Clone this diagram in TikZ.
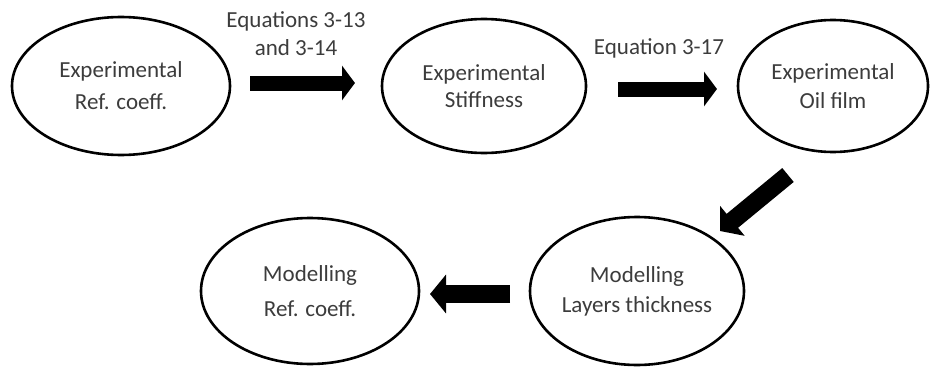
\documentclass[tikz,border=0pt]{standalone}
\usepackage{fontspec}
\setmainfont{Carlito}
\usepackage{tikz}
\usetikzlibrary{positioning,arrows.meta,shapes.geometric}
\definecolor{txtgray}{HTML}{3C3C3C}

\begin{document}
\begin{tikzpicture}[
    x=1pt, y=-1pt,
    node distance=152pt,
    stage/.style={ellipse, draw, line width=2.6pt, inner sep=0pt, outer sep=0pt, align=center, text=txtgray, font=\fontsize{23}{30}\selectfont},
    eqlabel/.style={align=center, text=txtgray, font=\fontsize{23}{28}\selectfont},
    bigarrow/.style={-{Triangle[width=34pt,length=13pt]}, line width=15pt},
    fatarrow/.style={-{Triangle[width=38pt,length=16pt]}, line width=18pt}
  ]
  \useasboundingbox (0,0) rectangle (931,369);

  % top row
  \node[stage, minimum width=218pt, minimum height=138pt, font=\fontsize{23}{32}\selectfont] (e1) at (121,86) {Experimental\\Ref. coeff.};
  \node[stage, minimum width=204pt, minimum height=134pt, font=\fontsize{23}{27}\selectfont, right=of e1] (e2) {Experimental\\Stiffness};
  \node[stage, minimum width=190pt, minimum height=132pt, font=\fontsize{23}{29}\selectfont, right=of e2] (e3) {Experimental\\Oil film};

  % bottom row
  \node[stage, minimum width=214pt, minimum height=148pt] (e4) at (637,291) {Modelling\\Layers thickness};
  \node[stage, minimum width=218pt, minimum height=146pt, font=\fontsize{23}{35}\selectfont, left=111pt of e4] (e5) {Modelling\\Ref. coeff.};

  \node[eqlabel] (eq1) at (296,34) {Equations 3-13\\and 3-14};
  \node[eqlabel] (eq2) at (659,48) {Equation 3-17};

  \draw[bigarrow] ([shift={(20,-3)}]e1.east) -- ([shift={(-27,-3)}]e2.west);
  \draw[bigarrow] ([shift={(32,3)}]e2.east) -- ([shift={(-21,3)}]e3.west);
  \draw[fatarrow] ([shift={(-45,23)}]e3.south) -- ([shift={(83,14)}]e4.north);
  \draw[fatarrow] ([shift={(-20,3)}]e4.west) -- ([shift={(11,3)}]e5.east);
\end{tikzpicture}
\end{document}
